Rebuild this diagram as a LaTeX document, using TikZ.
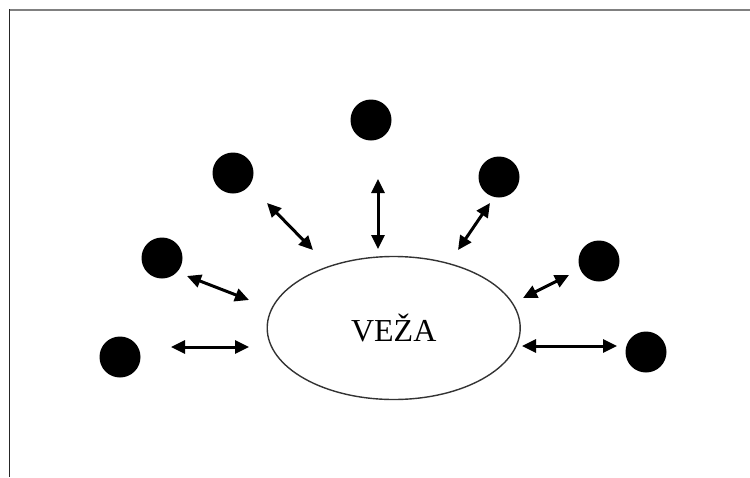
\documentclass[tikz,border=0pt]{standalone}
\usepackage{fontspec}
\setmainfont{Liberation Serif}
\usetikzlibrary{arrows.meta,shapes.geometric}

\begin{document}
\begin{tikzpicture}[x=1pt,y=-1pt,
	dot/.style={circle,fill=black,minimum size=41pt,inner sep=0pt},
	link/.style={{Triangle[length=14pt,width=13pt]}-{Triangle[length=14pt,width=13pt]},line width=3pt}]
	\useasboundingbox (0,0) rectangle (750,477);
	\draw[black!50,line width=2.5pt](9,10)--(750,10);
	\draw[black!85,line width=1.6pt](9.5,9)--(9.5,477);
	
	\node[draw=black!80,line width=1.4pt,ellipse,minimum width=253pt,minimum height=143pt,font=\fontsize{32}{36}\selectfont] at (393.7,328)(veza){VEŽA};
	
	\node[dot] at (120,357)(d1){};
	\node[dot] at (162,258)(d2){};
	\node[dot] at (233,173)(d3){};
	\node[dot] at (371,120)(d4){};
	\node[dot] at (499,177)(d5){};
	\node[dot] at (599,261)(d6){};
	\node[dot] at (646,352)(d7){};
	
	\coordinate (o1) at (171,347);\coordinate (i1) at (249,347);
	\coordinate (o2) at (187,276);\coordinate (i2) at (249,300);
	\coordinate (o3) at (267,203);\coordinate (i3) at (313,250);
	\coordinate (o4) at (378,179);\coordinate (i4) at (378,249);
	\coordinate (o5) at (490,203);\coordinate (i5) at (458,250);
	\coordinate (o6) at (569,275);\coordinate (i6) at (523,298);
	\coordinate (o7) at (617,346);\coordinate (i7) at (522,346);
	\path[link](o1)edge(i1)(o2)edge(i2)(o3)edge(i3)(o4)edge(i4)(o5)edge(i5)(o6)edge(i6)(o7)edge(i7);
	
\end{tikzpicture}
\end{document}
